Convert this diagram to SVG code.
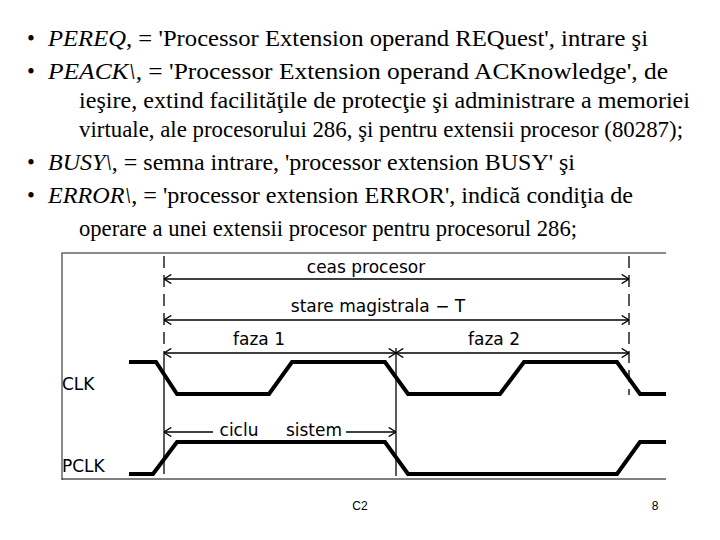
<svg xmlns="http://www.w3.org/2000/svg" width="720" height="540" viewBox="0 0 720 540">
<defs>
<style>
.t{font-family:"Liberation Serif",serif;font-size:22.5px;fill:#000}
.d{font-family:"DejaVu Sans",sans-serif;font-size:17px;fill:#000}
.w{fill:none;stroke:#000;stroke-width:4;stroke-linejoin:miter}
.a{fill:none;stroke:#000;stroke-width:1.3}
.ds{stroke:#000;stroke-width:1.3;stroke-dasharray:12,7}
</style>
<marker id="ar" viewBox="0 0 10 10" refX="10" refY="5" markerWidth="7" markerHeight="7" orient="auto-start-reverse"><path d="M2,0 L10,5 L2,10" fill="none" stroke="#000" stroke-width="1.5"/></marker>
</defs>
<rect width="720" height="540" fill="#fff"/>
<g id="text">
<text class="t" x="27" y="46">•</text><text class="t" x="48" y="46" textLength="600" lengthAdjust="spacingAndGlyphs"><tspan font-style="italic">PEREQ</tspan>, = 'Processor Extension operand REQuest', intrare şi</text>
<text class="t" x="27" y="79">•</text><text class="t" x="48" y="79" textLength="620" lengthAdjust="spacingAndGlyphs"><tspan font-style="italic">PEACK\</tspan>, = 'Processor Extension operand ACKnowledge', de</text>
<text class="t" x="79" y="108" textLength="611" lengthAdjust="spacingAndGlyphs">ieşire, extind facilităţile de protecţie şi administrare a memoriei</text>
<text class="t" x="79" y="137" textLength="604" lengthAdjust="spacingAndGlyphs">virtuale, ale procesorului 286, şi pentru extensii procesor (80287);</text>
<text class="t" x="27" y="170">•</text><text class="t" x="48" y="170" textLength="527" lengthAdjust="spacingAndGlyphs"><tspan font-style="italic">BUSY\</tspan>, = semna intrare, 'processor extension BUSY' şi</text>
<text class="t" x="27" y="203">•</text><text class="t" x="48" y="203" textLength="585" lengthAdjust="spacingAndGlyphs"><tspan font-style="italic">ERROR\</tspan>, = 'processor extension ERROR', indică condiţia de</text>
<text class="t" x="79" y="236" textLength="498" lengthAdjust="spacingAndGlyphs">operare a unei extensii procesor pentru procesorul 286;</text>
<text x="360" y="510" font-family="Liberation Sans,sans-serif" font-size="12" text-anchor="middle">C2</text>
<text x="655" y="510" font-family="Liberation Sans,sans-serif" font-size="12" text-anchor="middle">8</text>
</g>
<g id="frame">
<path d="M62,480 V253 H666" fill="none" stroke="#666" stroke-width="1.5"/>
<line x1="62" y1="479" x2="666" y2="479" stroke="#000" stroke-width="1"/>
</g>
<g id="connectors">
<line class="ds" x1="164" y1="256" x2="164" y2="362"/>
<line x1="164" y1="362" x2="164" y2="474" stroke="#000" stroke-width="1.3"/>
<line class="ds" x1="629" y1="256" x2="629" y2="395"/>
<line x1="396" y1="348" x2="396" y2="476" stroke="#000" stroke-width="1.3"/>
<line class="a" x1="164" y1="279" x2="629" y2="279" marker-start="url(#ar)" marker-end="url(#ar)"/>
<line class="a" x1="164" y1="320" x2="629" y2="320" marker-start="url(#ar)" marker-end="url(#ar)"/>
<line class="a" x1="164" y1="353" x2="396" y2="353" marker-start="url(#ar)" marker-end="url(#ar)"/>
<line class="a" x1="396" y1="353" x2="629" y2="353" marker-start="url(#ar)" marker-end="url(#ar)"/>
<line class="a" x1="164" y1="432" x2="213" y2="432" marker-start="url(#ar)"/>
<line class="a" x1="346" y1="432" x2="396" y2="432" marker-end="url(#ar)"/>
</g>
<g id="clk">
<path class="w" d="M129,362 H156 L177,394 H269 L292,362 H385 L408,394 H500 L524,362 H617 L640,394 H666"/>
<text class="d" x="62" y="390">CLK</text>
</g>
<g id="pclk">
<path class="w" d="M129,474 H153 L177,442 H385 L408,474 H617 L640,442 H666"/>
<text class="d" x="62" y="472">PCLK</text>
</g>
<g id="labels">
<text class="d" x="366" y="273" text-anchor="middle">ceas procesor</text>
<text class="d" x="378" y="312" text-anchor="middle">stare magistrala − T</text>
<text class="d" x="259" y="345" text-anchor="middle">faza 1</text>
<text class="d" x="494" y="345" text-anchor="middle">faza 2</text>
<text class="d" x="239" y="436" text-anchor="middle">ciclu</text>
<text class="d" x="314" y="436" text-anchor="middle">sistem</text>
</g>
</svg>
